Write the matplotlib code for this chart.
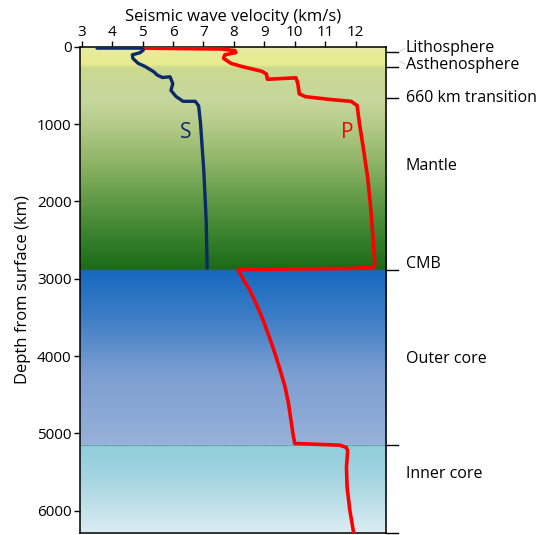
import numpy as np
import matplotlib
matplotlib.use("Agg")
import matplotlib.pyplot as plt

plt.rcParams['font.family'] = ['Open Sans', 'DejaVu Sans']

# S-wave velocity (km/s) vs depth (km)
s_vel = [3.50, 4.97, 5.02, 4.91, 4.66, 4.68, 4.85, 5.08, 5.36, 5.48, 5.65, 5.90,
         5.99, 5.93, 6.10, 6.33, 6.73, 6.84, 6.90, 7.01, 7.09, 7.12]
s_depth = [18, 18, 45, 78, 105, 152, 215, 256, 323, 367, 398, 389,
           477, 565, 645, 706, 706, 764, 984, 1602, 2264, 2862]

# P-wave velocity (km/s) vs depth (km)
p_vel = [4.97, 7.58, 8.03, 8.06, 7.70, 7.66, 7.90, 8.26, 8.92, 9.07, 9.10, 10.04,
         10.10, 10.15, 10.35, 11.21, 11.85, 12.05, 12.13, 12.25, 12.40, 12.50,
         12.58, 12.63, 12.60, 11.81, 8.14, 8.30, 8.52, 8.75, 8.96, 9.16, 9.35,
         9.52, 9.68, 9.79, 9.86, 9.94, 10.00, 11.48, 11.70, 11.74, 11.70, 11.72,
         11.81, 11.94]
p_depth = [18, 30, 50, 75, 105, 150, 215, 256, 318, 355, 421, 402,
           475, 610, 646, 684, 706, 760, 1000, 1300, 1700, 2100,
           2500, 2801, 2855, 2866, 2880, 3000, 3146, 3340, 3534, 3750, 3965,
           4180, 4396, 4600, 4784, 5000, 5129, 5151, 5181, 5230, 5431, 5690,
           5991, 6293]

# layer boundaries and labels on the right
tick_depths = [70, 260, 660, 2890, 5150, 6290]
layer_names = ["Lithosphere", "Asthenosphere", "660 km transition", "Mantle",
               "CMB", "Outer core", "Inner core"]
name_depths = [15, 235, 663, 1545, 2810, 4040, 5525]
cmb = 2890
icb = 5150
y_max = 6290

# background colour stops (depth, colour)
bg_stops = [
    (0, "#e2e8b6"), (60, "#e8ec9c"), (240, "#e6eb8e"), (275, "#ccd98e"),
    (700, "#c6d79e"), (1000, "#b6cc8a"), (1500, "#8fb467"), (2000, "#5f9946"),
    (2500, "#357f2a"), (cmb - 1, "#1b6a16"),
    (cmb, "#1569c0"), (3500, "#3d7dc6"), (4200, "#7a9dd0"), (icb - 1, "#97b2d9"),
    (icb, "#8fcddc"), (5600, "#a5d5e1"), (y_max, "#dcedf3"),
]

fig = plt.figure(figsize=(5.42, 5.35), dpi=100)
ax = fig.add_axes([0.1476, 0.0032, 0.5646, 0.9095])

# gradient background
d = np.linspace(0, y_max, 1200)
sd = np.array([s[0] for s in bg_stops], dtype=float)
sc = np.array([matplotlib.colors.to_rgb(s[1]) for s in bg_stops])
rgb = np.stack([np.interp(d, sd, sc[:, k]) for k in range(3)], axis=1)
img = np.repeat(rgb[:, None, :], 2, axis=1)
ax.imshow(img, extent=[2.94, 13, y_max, 0], aspect="auto", zorder=0,
          interpolation="bilinear")

ax.axhline(cmb, color="#4a5a6a", lw=0.6, ls=(0, (1, 1)), zorder=1)
ax.axhline(icb, color="#4a5a6a", lw=0.6, ls=(0, (1, 1)), zorder=1)

ax.plot(p_vel, p_depth, color="#ff0000", lw=2.6, solid_joinstyle="round",
        solid_capstyle="round", zorder=3)
ax.plot(s_vel, s_depth, color="#0c2a66", lw=2.4, solid_joinstyle="round",
        solid_capstyle="round", zorder=4)

ax.text(6.41, 1108, "S", color="#0c2a66", fontsize=15, ha="center", va="center")
ax.text(11.72, 1108, "P", color="#ff0000", fontsize=15, ha="center", va="center")

ax.set_xlim(2.94, 13)
ax.set_ylim(y_max, 0)
ax.xaxis.tick_top()
ax.xaxis.set_label_position("top")
ax.set_xticks(range(3, 13))
ax.set_yticks(range(0, 7000, 1000))
ax.tick_params(axis="both", direction="out", length=4, width=1, labelsize=11,
               pad=1, colors="black")
ax.tick_params(axis="y", pad=2)
ax.set_xlabel("Seismic wave velocity (km/s)", fontsize=12, labelpad=3)
ax.set_ylabel("Depth from surface (km)", fontsize=12, labelpad=4)

for sp in ax.spines.values():
    sp.set_linewidth(1.1)

# right-hand boundary ticks and names
for t in tick_depths:
    ax.plot([13, 13.4], [t, t], color="black", lw=1, clip_on=False)
for name, nd in zip(layer_names, name_depths):
    ax.text(13.65, nd, name, fontsize=11.5, ha="left", va="center", clip_on=False)
ax.plot([13.45, 13.62], [60, 25], color="#b8d3e8", lw=0.7, clip_on=False)
ax.plot([13.45, 13.62], [190, 225], color="#b8d3e8", lw=0.7, clip_on=False)

fig.savefig("out.png", dpi=100)
